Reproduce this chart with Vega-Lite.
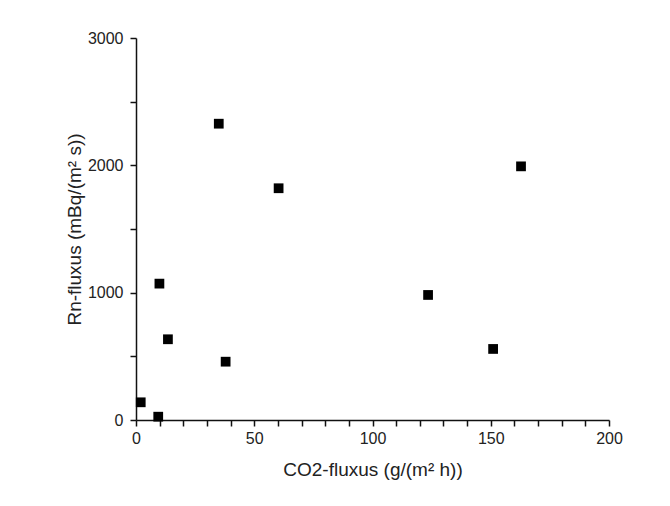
{
  "$schema": "https://vega.github.io/schema/vega-lite/v6.json",
  "width": 473,
  "height": 382,
  "autosize": {"type": "none"},
  "padding": {"left": 136, "top": 38, "right": 61, "bottom": 86},
  "background": "white",
  "config": {
    "view": {"stroke": null},
    "font": "Liberation Sans",
    "axis": {
      "grid": false,
      "domainColor": "#111",
      "domainWidth": 1.5,
      "tickColor": "#111",
      "tickWidth": 1.5,
      "tickSize": 6,
      "labelFlush": false,
      "labelFont": "Liberation Sans",
      "labelFontSize": 16,
      "labelColor": "#222",
      "titleFont": "Liberation Sans",
      "titleFontSize": 19,
      "titleFontWeight": "normal",
      "titleColor": "#222"
    }
  },
  "data": {
    "values": [
      {"co2": 2.0, "rn": 139},
      {"co2": 9.4, "rn": 26},
      {"co2": 9.9, "rn": 1071},
      {"co2": 13.5, "rn": 634},
      {"co2": 35.0, "rn": 2327},
      {"co2": 37.9, "rn": 458},
      {"co2": 60.3, "rn": 1820},
      {"co2": 123.5, "rn": 982},
      {"co2": 151.0, "rn": 558},
      {"co2": 162.8, "rn": 1992}
    ]
  },
  "mark": {"type": "point", "shape": "square", "filled": true, "color": "black", "opacity": 1, "size": 95},
  "encoding": {
    "x": {
      "field": "co2",
      "type": "quantitative",
      "scale": {"domain": [0, 200], "nice": false, "zero": false},
      "axis": {
        "title": "CO2-fluxus (g/(m² h))",
        "values": [0, 10, 20, 30, 40, 50, 60, 70, 80, 90, 100, 110, 120, 130, 140, 150, 160, 170, 180, 190, 200],
        "labelExpr": "datum.value % 50 == 0 ? datum.label : ''",
        "labelPadding": 4,
        "titlePadding": 14
      }
    },
    "y": {
      "field": "rn",
      "type": "quantitative",
      "scale": {"domain": [0, 3000], "nice": false, "zero": false},
      "axis": {
        "title": "Rn-fluxus (mBq/(m² s))",
        "values": [0, 500, 1000, 1500, 2000, 2500, 3000],
        "labelExpr": "datum.value % 1000 == 0 ? datum.label : ''",
        "format": "d",
        "labelPadding": 7,
        "titlePadding": 3
      }
    }
  }
}
